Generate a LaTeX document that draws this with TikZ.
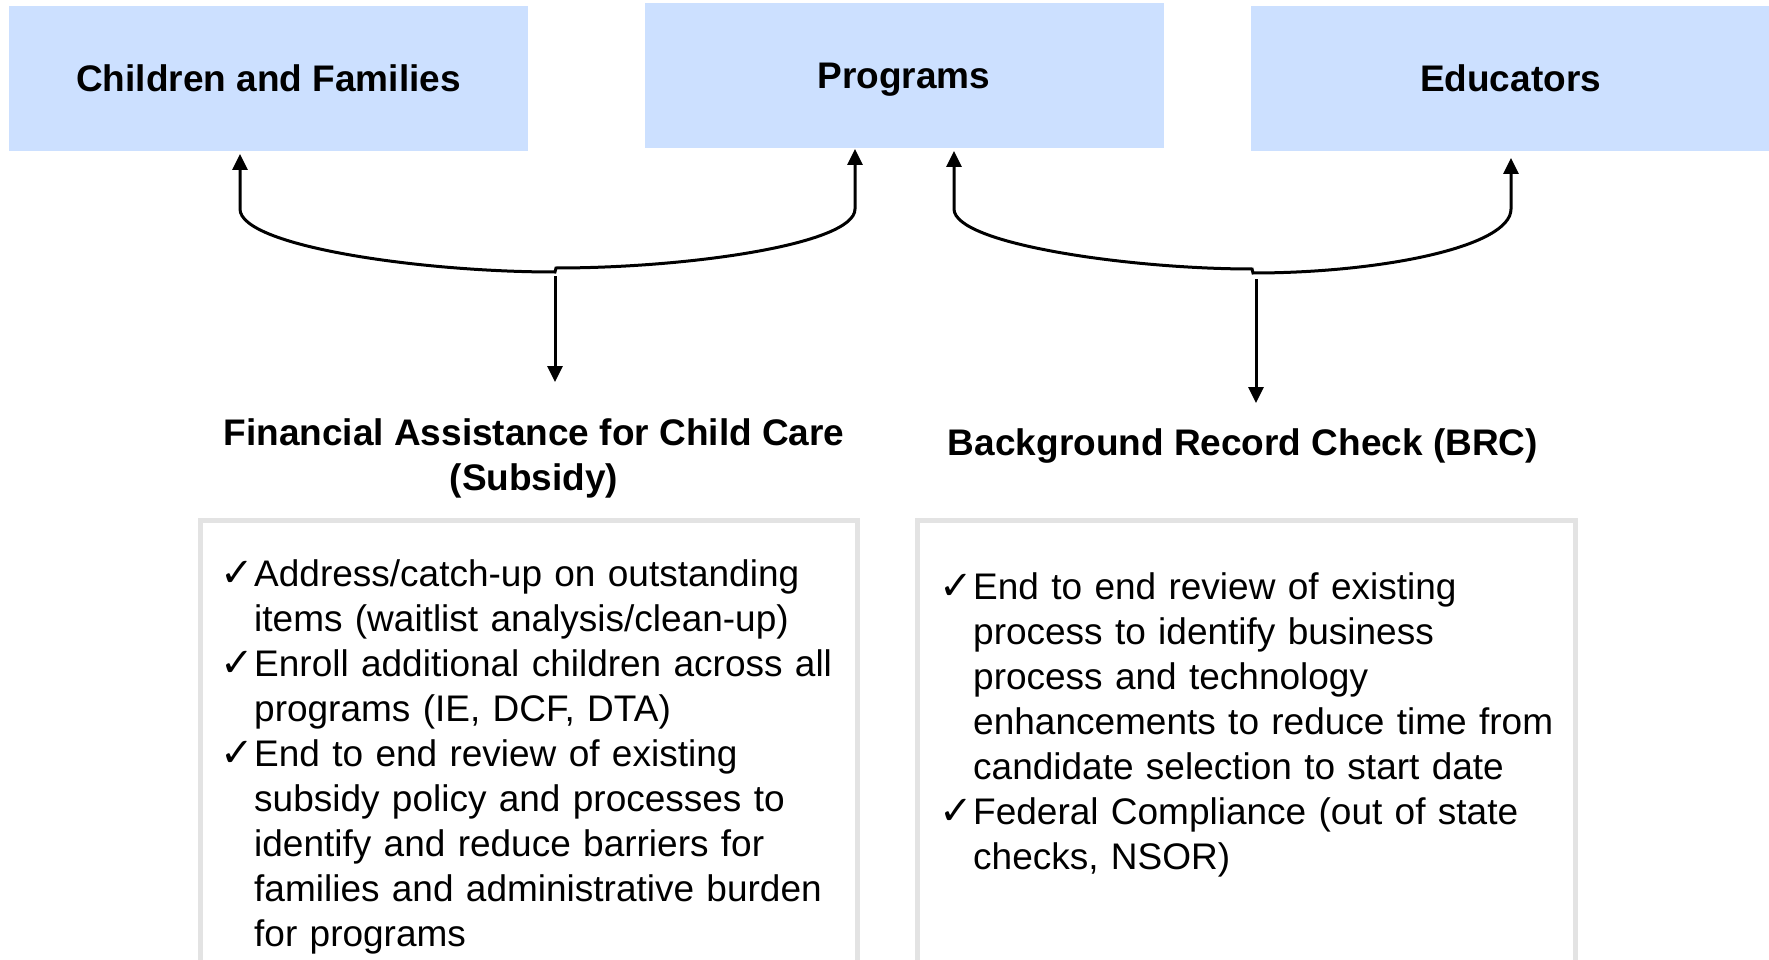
\documentclass[tikz,border=0pt]{standalone}
\usepackage{fontspec}
\setmainfont{Liberation Sans}
\newfontfamily\tickfont{DejaVu Sans}
\usepackage{tikz}
\usetikzlibrary{positioning}
\usetikzlibrary{arrows.meta}
\definecolor{boxblue}{RGB}{204,224,255}
\definecolor{framegray}{RGB}{227,227,227}
\tikzset{group/.style={fill=boxblue,minimum width=519pt,minimum height=145pt,inner sep=0pt,font=\fontsize{37}{45}\selectfont\bfseries,text height=27pt,text depth=0pt}}
\tikzset{heading/.style={font=\fontsize{37}{45}\selectfont\bfseries,align=center,inner sep=0pt}}
\tikzset{frame/.style={draw=framegray,line width=5pt,minimum width=657pt,minimum height=460pt,inner sep=0pt}}
\tikzset{items/.style={font=\fontsize{37}{45}\selectfont,text width=640pt,align=left,inner sep=0pt}}
\tikzset{link/.style={line width=3pt}}
\newcommand{\tick}{\par\noindent\hangindent=34pt\hangafter=1\makebox[34pt][l]{\smash{\tickfont\fontsize{40}{45}\selectfont ✓}}}

\begin{document}
\begin{tikzpicture}[x=1pt,y=-1pt,>={Triangle[length=16pt,width=15pt]}]
        \useasboundingbox (0,0) rectangle (1769,960);
        \clip (0,0) rectangle (1769,960);
        % top row
        \node[group] (cf) at (268.5,78.5) {Children and Families};
        \node[group] (prog) at (904,75.5) {Programs};
        \node[group] (edu) at (1510.5,78.5) {Educators};
        % frames with the lists
        \node[frame,anchor=north west] (frame1) at (198,518) {};
        \node[frame,anchor=north west,minimum width=658pt] (frame2) at (915,518) {};
        \node[heading,above=20pt of frame1,xshift=5pt] (fin) {Financial Assistance for Child Care\\(Subsidy)};
        \node[heading,above=54pt of frame2,xshift=-3.5pt] (brc) {Background Record Check (BRC)};
        \node[items,below right=23pt and 22pt of frame1.north west] (list1) {%
            \tick Address/catch-up on outstanding\newline items (waitlist analysis/clean-up)
            \tick Enroll additional children across all\newline programs (IE, DCF, DTA)
            \tick End to end review of existing\newline subsidy policy and processes to\newline identify and reduce barriers for\newline families and administrative burden\newline for programs\par};
        \node[items,below right=36pt and 24pt of frame2.north west] (list2) {%
            \tick End to end review of existing\newline process to identify business\newline process and technology\newline enhancements to reduce time from\newline candidate selection to start date
            \tick Federal Compliance (out of state\newline checks, NSOR)\par};
        % braces
        \coordinate (cf-in) at (240,154);
        \coordinate (prog-in1) at (855,149);
        \coordinate (fork1) at (555,272);
        \coordinate (fin-in) at (555,382);
        \draw[link,<->] (cf-in) -- (240,209) .. controls (240,246) and (420,272) .. (fork1)
            -- ++(1,-4) .. controls (690,268) and (855,244) .. (855,209) -- (prog-in1);
        \draw[link,->,shorten <=4pt] (fork1) -- (fin-in);
        \coordinate (prog-in2) at (954,151);
        \coordinate (edu-in) at (1511,158);
        \coordinate (fork2) at (1252,269);
        \coordinate (brc-in) at (1256,403);
        \draw[link,<->] (prog-in2) -- (954,209) .. controls (954,244) and (1130,269) .. (fork2)
            -- ++(1,4) .. controls (1380,273) and (1511,247) .. (1511,209) -- (edu-in);
        \draw[link,->] (1256,279) -- (brc-in);
\end{tikzpicture}
\end{document}
